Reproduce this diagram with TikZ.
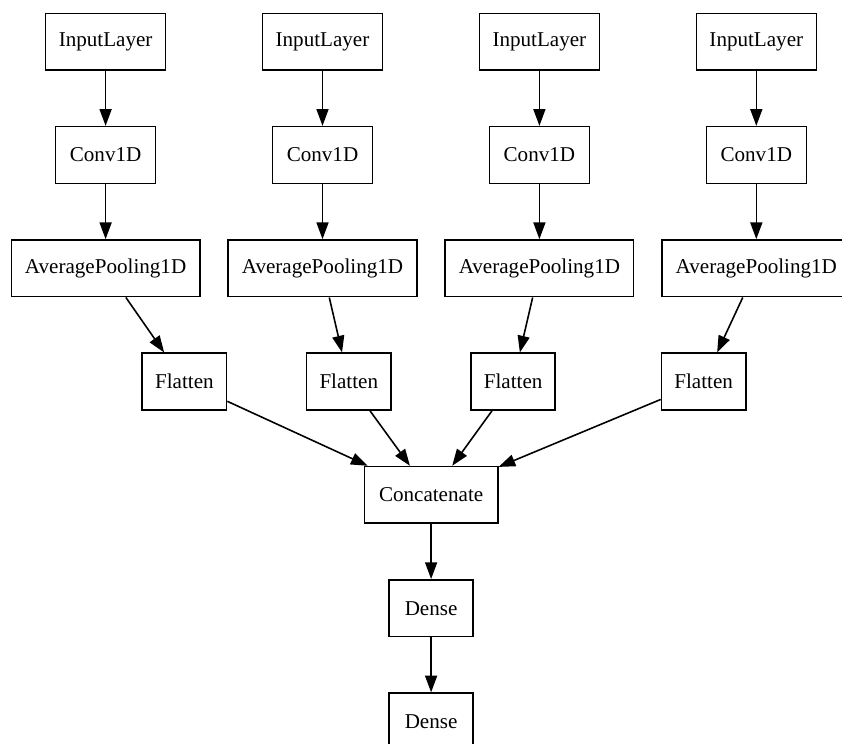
\documentclass[tikz,border=0pt]{standalone}
\usepackage{fontspec}
\setmainfont{Liberation Serif}
\usepackage{tikz}
\usetikzlibrary{shapes.geometric, arrows.meta}
\usetikzlibrary{positioning}
\tikzstyle{layer} = [rectangle, minimum height=1.134cm, inner sep=0pt, text centered, draw=black, line width=0.9pt, font=\fontsize{12}{14}\selectfont]
\tikzstyle{inlayer} = [layer, minimum width=2.4cm]
\tikzstyle{conv} = [layer, minimum width=2cm]
\tikzstyle{pool} = [layer, minimum width=3.77cm]
\tikzstyle{flat} = [layer, minimum width=1.686cm]
\tikzstyle{concat} = [layer, minimum width=2.666cm]
\tikzstyle{dense} = [layer, minimum width=1.68cm]
\tikzstyle{arrow} = [line width=0.9pt,->,>={Triangle[length=9.5pt,width=6.8pt]}]

\begin{document}
\begin{tikzpicture}[node distance=2.266cm]

\clip (0,0) rectangle (16.84,-14.86);

\node (in1) [inlayer] at (2.112,-0.834) {InputLayer};
\node (in2) [inlayer, right of=in1, xshift=2.072cm] {InputLayer};
\node (in3) [inlayer, right of=in2, xshift=2.072cm] {InputLayer};
\node (in4) [inlayer, right of=in3, xshift=2.072cm] {InputLayer};

\node (conv1) [conv, below of=in1] {Conv1D};
\node (conv2) [conv, below of=in2] {Conv1D};
\node (conv3) [conv, below of=in3] {Conv1D};
\node (conv4) [conv, below of=in4] {Conv1D};

\node (pool1) [pool, below of=conv1] {AveragePooling1D};
\node (pool2) [pool, below of=conv2] {AveragePooling1D};
\node (pool3) [pool, below of=conv3] {AveragePooling1D};
\node (pool4) [pool, below of=conv4] {AveragePooling1D};

\node (flat1) [flat, below of=pool1, xshift=1.576cm] {Flatten};
\node (flat2) [flat, below of=pool2, xshift=0.526cm] {Flatten};
\node (flat3) [flat, below of=pool3, xshift=-0.526cm] {Flatten};
\node (flat4) [flat, below of=pool4, xshift=-1.054cm] {Flatten};

\node (cat) [concat, below of=flat2, xshift=1.646cm] {Concatenate};

\node (dense1) [dense, below of=cat] {Dense};

\node (dense2) [dense, below of=dense1] {Dense};


\draw [arrow] (in1) -- (conv1);
\draw [arrow] (in2) -- (conv2);
\draw [arrow] (in3) -- (conv3);
\draw [arrow] (in4) -- (conv4);
\draw [arrow] (conv1) -- (pool1);
\draw [arrow] (conv2) -- (pool2);
\draw [arrow] (conv3) -- (pool3);
\draw [arrow] (conv4) -- (pool4);
\draw [arrow] (pool1) -- (flat1);
\draw [arrow] (pool2) -- (flat2);
\draw [arrow] (pool3) -- (flat3);
\draw [arrow] (pool4) -- (flat4);
\draw [arrow] (flat1) -- (cat);
\draw [arrow] (flat2) -- (cat);
\draw [arrow] (flat3) -- (cat);
\draw [arrow] (flat4) -- (cat);
\draw [arrow] (cat) -- (dense1);
\draw [arrow] (dense1) -- (dense2);


\end{tikzpicture}
\end{document}
